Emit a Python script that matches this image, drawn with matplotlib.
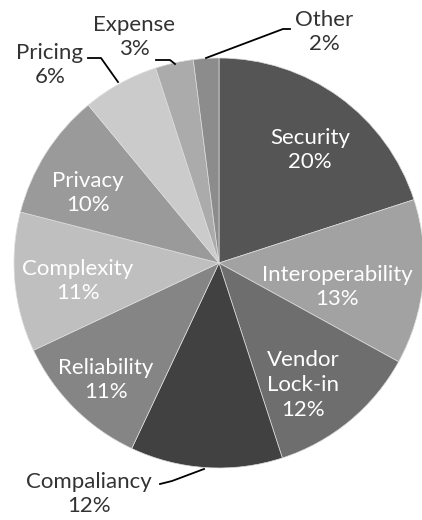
import matplotlib
matplotlib.use("Agg")
import matplotlib.pyplot as plt

# data, clockwise from 12 o'clock
labels = ["Security", "Interoperability", "Vendor\nLock-in", "Compaliancy",
          "Reliability", "Complexity", "Privacy", "Pricing", "Expense", "Other"]
shares = [20, 13, 12, 12, 11, 11, 10, 6, 3, 2]
colors = ["#555555", "#a2a2a2", "#6e6e6e", "#414141", "#858585",
          "#bfbfbf", "#9a9a9a", "#cbcbcb", "#ababab", "#8c8c8c"]

plt.rcParams['font.family'] = ['Lato', 'DejaVu Sans']

fig = plt.figure(figsize=(4.22, 5.2), dpi=100)
ax = fig.add_axes([0, 0, 1, 1])

H = 520
cx, cy, R = 219, 263, 205
ax.pie(shares, colors=colors, startangle=90, counterclock=False,
       center=(cx, H - cy), radius=R, frame=True,
       wedgeprops=dict(edgecolor="#dddddd", linewidth=0.5))
ax.set_xlim(0, 422)
ax.set_ylim(0, H)
ax.set_aspect("equal")
ax.axis("off")

fs = 16
inside = {
    "Security": (310, 150),
    "Interoperability": (337, 287),
    "Vendor\nLock-in": (303, 385),
    "Reliability": (106, 380),
    "Complexity": (78, 281),
    "Privacy": (88, 193),
}
for lab, s in zip(labels, shares):
    if lab in inside:
        x, y = inside[lab]
        ax.text(x, H - y, f"{lab}\n{s}%", ha="center", va="center", color="white",
                fontsize=fs, linespacing=1.3)

# outside labels with leader lines (screen pixel coords)
outside = {
    "Pricing": ((50, 65), [(88, 58), (101, 58), (118, 82)]),
    "Expense": ((134, 37), [(156, 60), (170, 60), (175, 64)]),
    "Other": ((324, 32), [(290, 29), (283, 29), (206, 58)]),
    "Compaliancy": ((89, 494), [(160, 484), (172, 481), (204, 469)]),
}
for lab, s in zip(labels, shares):
    if lab in outside:
        (x, y), pts = outside[lab]
        ax.text(x, H - y, f"{lab}\n{s}%", ha="center", va="center", color="#333333",
                fontsize=fs, linespacing=1.3)
        xs = [p[0] for p in pts]
        ys = [H - p[1] for p in pts]
        ax.plot(xs, ys, color="black", linewidth=1.3)

fig.savefig("out.png", dpi=100)
